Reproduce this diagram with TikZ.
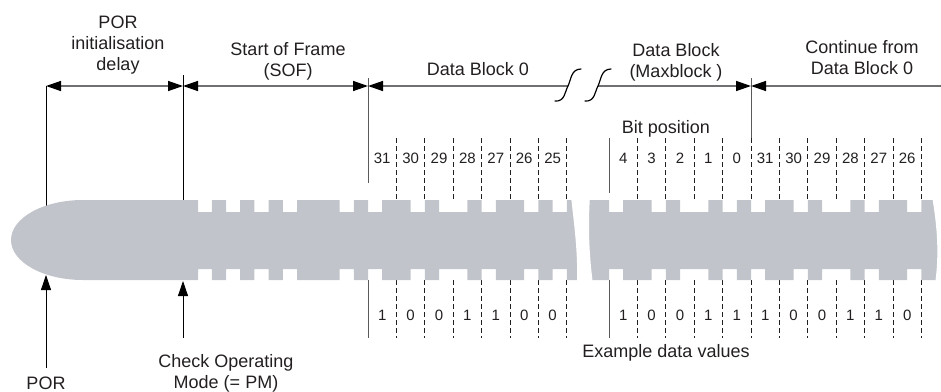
\documentclass[tikz,border=0pt]{standalone}
\usepackage{fontspec}
\setmainfont{Liberation Sans}
\usetikzlibrary{arrows.meta}
\definecolor{bandgray}{RGB}{193,196,202}
\definecolor{dimgray}{RGB}{112,112,114}
\definecolor{inkgray}{RGB}{35,31,32}
\tikzset{
  caption/.style={font=\fontsize{18}{21}\selectfont, text=inkgray, align=center, inner sep=0pt, anchor=base},
  bitnum/.style={font=\fontsize{15}{18}\selectfont, text=inkgray, inner sep=0pt, anchor=base},
  dimline/.style={draw=dimgray, line width=1.4pt},
  marker/.style={draw=black, line width=0.8pt},
  cellmark/.style={draw=dimgray!80!black, line width=0.9pt},
  bitsep/.style={draw=inkgray, line width=0.8pt, dash pattern=on 5pt off 3pt},
  breakmark/.style={draw=black, line width=1.2pt, line cap=round},
  band/.style={fill=bandgray}
}
\begin{document}
\begin{tikzpicture}[x=1pt, y=-1pt, >={Triangle[length=15pt, width=10pt, color=black]}]
  \useasboundingbox (0,0) rectangle (941,391);

  % Dimension line end points
  \coordinate (porTop) at (46,86);
  \coordinate (pmTop) at (183,86);
  \coordinate (blkTop) at (368,86);
  \coordinate (brkL) at (568,86);
  \coordinate (brkR) at (598,86);
  \coordinate (maxTop) at (751,86);
  \coordinate (farR) at (941,86);

  % Vertical markers
  \draw[marker] (46,86) -- (46,210);
  \draw[marker] (183,75) -- (183,205);
  \draw[cellmark] (368,78) -- (368,183);
  \draw[cellmark] (751,78) -- (751,138);
  \draw[cellmark] (609,138) -- (609,193);
  \draw[cellmark] (368,280) -- (368,338);
  \draw[cellmark] (609,280) -- (609,338);

  % Bit cell separators
  \foreach \i in {1,...,7} {
    \draw[bitsep] (368+28.4*\i,138) -- (368+28.4*\i,200);
    \draw[bitsep] (368+28.4*\i,280) -- (368+28.4*\i,338);
  }
  \foreach \i in {1,...,11} {
    \draw[bitsep] (609+28.4*\i,138) -- (609+28.4*\i,200);
    \draw[bitsep] (609+28.4*\i,280) -- (609+28.4*\i,338);
  }

  % Signal band
  \fill[band] (83,240) ellipse [x radius=72pt, y radius=40pt]
    (83,212) rectangle (941,269)
    \foreach \a/\b in {83/198, 211.8/226, 240.2/254.4, 268.6/282.8, 297/339.6,
      353.8/368, 382.2/410.6, 424.8/439, 467.4/481.6, 495.8/524.2, 538.4/552.6,
      566.8/585, 585/609, 623.2/651.6, 665.8/680, 708.4/722.6, 736.8/751,
      765.2/793.6, 807.8/822, 850.4/864.6, 878.8/907.2, 921.4/941}
    {(\a,200) rectangle (\b,280)};
  \fill[white] (571,196) .. controls (574,225) and (578,250) .. (577,284)
    -- (593,284) .. controls (589,255) and (588,225) .. (590,196) -- cycle;
  \fill[white] (932,196) .. controls (936,220) and (940,250) .. (935,284)
    -- (945,284) -- (945,196) -- cycle;

  % Dimension arrows
  \draw[dimline,<->] (porTop) -- (pmTop);
  \draw[dimline,<->] (pmTop) -- (blkTop);
  \draw[dimline,<-] (blkTop) -- (brkL);
  \draw[dimline,->] (brkR) -- (maxTop);
  \draw[dimline,<-] (maxTop) -- (farR);
  \draw[breakmark] (555,101) .. controls (565,102) and (565,91) .. (568,86)
    .. controls (571,80) and (571,69) .. (581,69);
  \draw[breakmark] (585,101) .. controls (595,102) and (595,91) .. (598,86)
    .. controls (601,80) and (601,69) .. (611,69);

  % Event arrows
  \coordinate (porFoot) at (46,368);
  \coordinate (porTip) at (46,275);
  \coordinate (pmFoot) at (183,338);
  \coordinate (pmTip) at (183,281);
  \draw[marker,->] (porFoot) -- (porTip);
  \draw[marker,->] (pmFoot) -- (pmTip);

  % Labels (base = last line)
  \node[caption] (porDelay) at (118,70) {POR\\initialisation\\delay};
  \node[caption] (sofText) at (288,76) {Start of Frame\\(SOF)};
  \node[caption] (blkText) at (478,75) {Data Block 0};
  \node[caption] (maxText) at (676,77) {Data Block\\(Maxblock )};
  \node[caption] (contText) at (862,74) {Continue from\\Data Block 0};
  \node[caption] (bitPos) at (666,133) {Bit position};
  \node[caption] (exValues) at (666,357) {Example data values};
  \node[caption] (pmText) at (226,388) {Check Operating\\Mode (= PM)};
  \node[caption] (porText) at (46,389) {POR};

  % Bit numbers and values
  \foreach \b [count=\i from 0] in {31,30,29,28,27,26,25}
    \node[bitnum] (numA\i) at (382.2+28.4*\i,163) {\b};
  \foreach \v [count=\i from 0] in {1,0,0,1,1,0,0}
    \node[bitnum] (valA\i) at (382.2+28.4*\i,320) {\v};
  \foreach \b [count=\i from 0] in {4,3,2,1,0,31,30,29,28,27,26}
    \node[bitnum] (numB\i) at (623.2+28.4*\i,163) {\b};
  \foreach \v [count=\i from 0] in {1,0,0,1,1,1,0,0,1,1,0}
    \node[bitnum] (valB\i) at (623.2+28.4*\i,320) {\v};
\end{tikzpicture}
\end{document}
